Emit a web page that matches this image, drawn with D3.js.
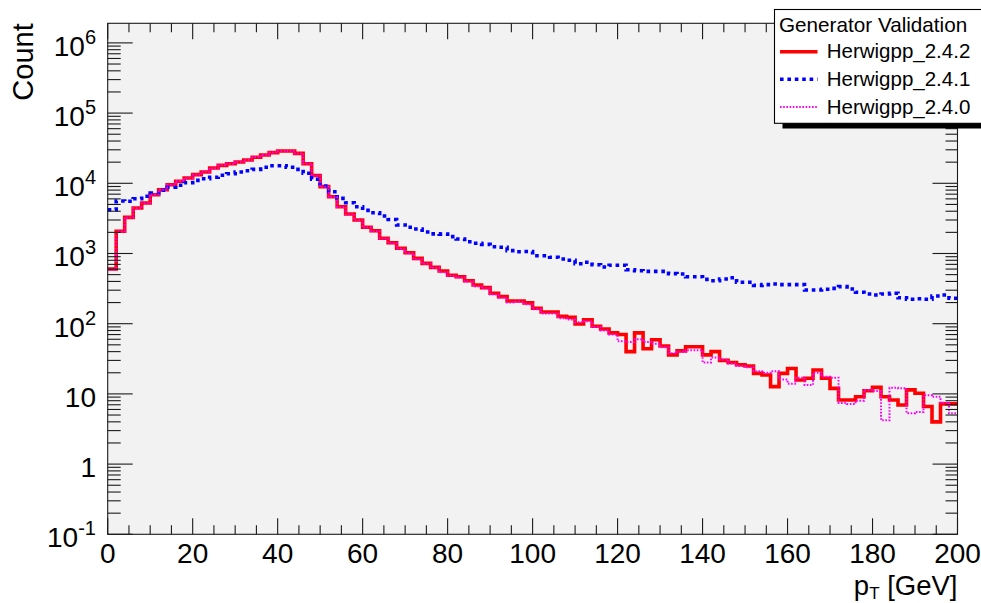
<!DOCTYPE html>
<html>
<head>
<meta charset="utf-8">
<script src="https://cdn.jsdelivr.net/npm/d3@7"></script>
<style>
  html, body { margin: 0; padding: 0; background: #ffffff; }
  svg { display: block; }
  text { font-family: "Liberation Sans", Arial, Helvetica, sans-serif; fill: #000; }
</style>
</head>
<body>
<svg id="chart" width="981" height="603"></svg>
<script>
// ---------------- data ----------------
const binWidth = 2;               // GeV
const xRange = [0, 200];
const xMajorTicks = [0, 20, 40, 60, 80, 100, 120, 140, 160, 180, 200];
const yTickValues = [0.1, 1, 10, 100, 1e3, 1e4, 1e5, 1e6];
const yTickBase   = ["10", "1", "10", "10", "10", "10", "10", "10"];
const yTickExp    = ["-1", "", "", "2", "3", "4", "5", "6"];
const seriesNames = ["Herwigpp_2.4.2", "Herwigpp_2.4.1", "Herwigpp_2.4.0"];
const legendTitle = "Generator Validation";

const herwig242 = [
  600, 2070, 3270, 4450, 5240, 6880, 8110, 9550, 10700, 11900,
  13300, 14500, 16500, 18000, 19000, 20100, 21500, 23500, 25300, 27300,
  28800, 28800, 26700, 19000, 12900, 8950, 6440, 4640, 3650, 3000,
  2360, 2110, 1650, 1420, 1185, 1026, 853, 724, 635, 563,
  489, 467, 410, 356, 326, 271, 243, 210, 210, 198,
  166, 147, 147, 127, 123, 99, 114, 92, 84, 74,
  70, 40, 74, 44, 59, 48, 36, 41, 47, 47,
  36, 40, 30, 28, 26, 25, 19.6, 18.6, 12.7, 19.6,
  23, 15.8, 16.7, 21.9, 16.7, 12, 8.2, 8.2, 9.1, 11.1,
  12.4, 9.1, 8.2, 6.95, 11.4, 10.2, 6.6, 4.0, 7.2, 7.2
];
const herwig241 = [
  4200, 5600, 5540, 6030, 6530, 7280, 7950, 8770, 9360, 10200,
  11000, 11600, 12200, 13000, 13700, 14500, 15100, 15800, 16900, 17800,
  17800, 16900, 15800, 13900, 11400, 9150, 7590, 6100, 5290, 4640,
  4120, 3810, 3420, 3050, 2550, 2360, 2230, 2020, 1900, 1890,
  1740, 1610, 1470, 1400, 1350, 1250, 1225, 1100, 1060, 1065,
  930, 930, 883, 835, 800, 716, 749, 692, 642, 679,
  679, 588, 569, 557, 557, 557, 516, 510, 467, 467,
  428, 410, 433, 452, 389, 389, 352, 360, 367, 360,
  360, 360, 302, 302, 309, 319, 337, 312, 280, 265,
  256, 265, 271, 234, 223, 227, 223, 248, 256, 230
];
const herwig240 = [
  590, 2050, 3250, 4400, 5200, 6900, 8100, 9500, 10800, 11900,
  13200, 14600, 16400, 18100, 19000, 20200, 21400, 23600, 25200, 27400,
  28700, 28900, 26600, 19100, 12800, 8900, 6400, 4600, 3620, 2980,
  2340, 2080, 1640, 1400, 1170, 1010, 830, 715, 625, 540,
  480, 455, 400, 340, 320, 260, 235, 200, 205, 190,
  160, 140, 140, 120, 115, 105, 108, 90, 80, 70,
  56, 55, 60, 55, 52, 46, 38, 40, 42, 42,
  28, 33, 31, 27, 25, 24, 21, 20, 21, 16,
  14, 17, 13.4, 20, 17.6, 17, 7.4, 7.2, 8, 11.4,
  11, 4.2, 12.2, 12, 5.3, 5.5, 9.6, 9.1, 7.5, 5.3
];
const seriesValues = [herwig242, herwig241, herwig240];

// ---------------- layout ----------------
const svg = d3.select("#chart");
const W = 981, H = 603;
const plot = { left: 107.7, right: 957.5, top: 23.3, bottom: 534.3 };

const x = d3.scaleLinear().domain(xRange).range([plot.left, plot.right]);
const yTop = Math.pow(10, 6.279);
const y = d3.scaleLog().domain([0.1, yTop]).range([plot.bottom, plot.top]);

svg.append("rect").attr("x", 0).attr("y", 0).attr("width", W).attr("height", H).attr("fill", "#ffffff");
svg.append("rect")
  .attr("x", plot.left).attr("y", plot.top)
  .attr("width", plot.right - plot.left).attr("height", plot.bottom - plot.top)
  .attr("fill", "#f2f2f2");

svg.append("clipPath").attr("id", "plotclip")
  .append("rect")
  .attr("x", plot.left).attr("y", plot.top - 2)
  .attr("width", plot.right - plot.left).attr("height", plot.bottom - plot.top + 2);

// ---------------- histograms ----------------
const styles = [
  { color: "#ff0000", width: 3.6, dash: null },
  { color: "#0000ff", width: 3.6, dash: "3.6,3.8" },
  { color: "#ff00ff", width: 2, dash: "1.6,1.6" }
];

const line = d3.line()
  .x(d => x(d[0]))
  .y(d => y(d[1]))
  .curve(d3.curveStepAfter);

const gHist = svg.append("g").attr("clip-path", "url(#plotclip)");
seriesValues.forEach((vals, si) => {
  const pts = vals.map((v, i) => [xRange[0] + i * binWidth, v]);
  pts.push([xRange[0] + vals.length * binWidth, vals[vals.length - 1]]);
  const p = gHist.append("path")
    .attr("d", line(pts))
    .attr("fill", "none")
    .attr("stroke", styles[si].color)
    .attr("stroke-width", styles[si].width)
    .attr("stroke-linejoin", "miter")
    .attr("stroke-linecap", "butt");
  if (styles[si].dash) p.attr("stroke-dasharray", styles[si].dash);
});

// ---------------- axes / frame ----------------
const axisColor = "#1a1a1a";
const gAxes = svg.append("g").attr("stroke", axisColor).attr("stroke-width", 1.1).attr("fill", "none");
gAxes.append("rect")
  .attr("x", plot.left).attr("y", plot.top)
  .attr("width", plot.right - plot.left).attr("height", plot.bottom - plot.top);

// x ticks: major every 20, minor every 5, bottom and top
const xMinor = d3.range(xRange[0], xRange[1] + 0.001, 5).filter(v => xMajorTicks.indexOf(v) < 0);
xMajorTicks.forEach(v => {
  const px = x(v);
  gAxes.append("line").attr("x1", px).attr("x2", px).attr("y1", plot.bottom).attr("y2", plot.bottom - 16);
  gAxes.append("line").attr("x1", px).attr("x2", px).attr("y1", plot.top).attr("y2", plot.top + 16);
});
xMinor.forEach(v => {
  const px = x(v);
  gAxes.append("line").attr("x1", px).attr("x2", px).attr("y1", plot.bottom).attr("y2", plot.bottom - 9);
  gAxes.append("line").attr("x1", px).attr("x2", px).attr("y1", plot.top).attr("y2", plot.top + 9);
});

// y ticks: major at decades, minor at 2..9 x decade, left and right
const yMinor = [];
yTickValues.forEach(d => { for (let k = 2; k <= 9; k++) { const v = d * k; if (v <= yTop) yMinor.push(v); } });
yTickValues.forEach(v => {
  const py = y(v);
  gAxes.append("line").attr("x1", plot.left).attr("x2", plot.left + 25).attr("y1", py).attr("y2", py);
  gAxes.append("line").attr("x1", plot.right).attr("x2", plot.right - 25).attr("y1", py).attr("y2", py);
});
yMinor.forEach(v => {
  const py = y(v);
  gAxes.append("line").attr("x1", plot.left).attr("x2", plot.left + 13).attr("y1", py).attr("y2", py);
  gAxes.append("line").attr("x1", plot.right).attr("x2", plot.right - 12).attr("y1", py).attr("y2", py);
});

// x tick labels
const gLab = svg.append("g");
xMajorTicks.forEach(v => {
  gLab.append("text")
    .attr("x", x(v)).attr("y", 563)
    .attr("text-anchor", "middle")
    .attr("font-size", 28)
    .text(d3.format("d")(v));
});

// y tick labels
yTickValues.forEach((v, i) => {
  const t = gLab.append("text")
    .attr("x", 96).attr("y", y(v) + 13)
    .attr("text-anchor", "end")
    .attr("font-size", 28);
  t.append("tspan").text(yTickBase[i]);
  if (yTickExp[i]) {
    t.append("tspan").attr("font-size", 20).attr("dy", -12).text(yTickExp[i]);
  }
});

// axis titles
gLab.append("text")
  .attr("transform", "translate(33," + plot.top + ") rotate(-90)")
  .attr("text-anchor", "end")
  .attr("font-size", 29)
  .text("Count");

const xt = gLab.append("text")
  .attr("x", plot.right).attr("y", 595)
  .attr("text-anchor", "end")
  .attr("font-size", 27.5);
xt.append("tspan").text("p");
xt.append("tspan").attr("font-size", 17).attr("dy", 4).text("T");
xt.append("tspan").attr("dy", -4).text(" [GeV]");

// ---------------- legend ----------------
const leg = svg.append("g");
leg.append("rect").attr("x", 782.5).attr("y", 123).attr("width", 220).attr("height", 5.5).attr("fill", "#000");
leg.append("rect")
  .attr("x", 774.5).attr("y", 9.5).attr("width", 230).attr("height", 113.8)
  .attr("fill", "#ffffff").attr("stroke", "#000").attr("stroke-width", 1.1);
leg.append("text").attr("x", 779).attr("y", 31.5).attr("font-size", 20.7).text(legendTitle);
const rowY = [51.7, 79.3, 107];
seriesNames.forEach((name, i) => {
  const l = leg.append("line")
    .attr("x1", 780).attr("x2", 817.5)
    .attr("y1", rowY[i]).attr("y2", rowY[i])
    .attr("stroke", styles[i].color).attr("stroke-width", styles[i].width);
  if (styles[i].dash) l.attr("stroke-dasharray", styles[i].dash);
  leg.append("text").attr("x", 826.7).attr("y", rowY[i] + 6.5).attr("font-size", 20.5).text(name);
});
</script>
</body>
</html>
